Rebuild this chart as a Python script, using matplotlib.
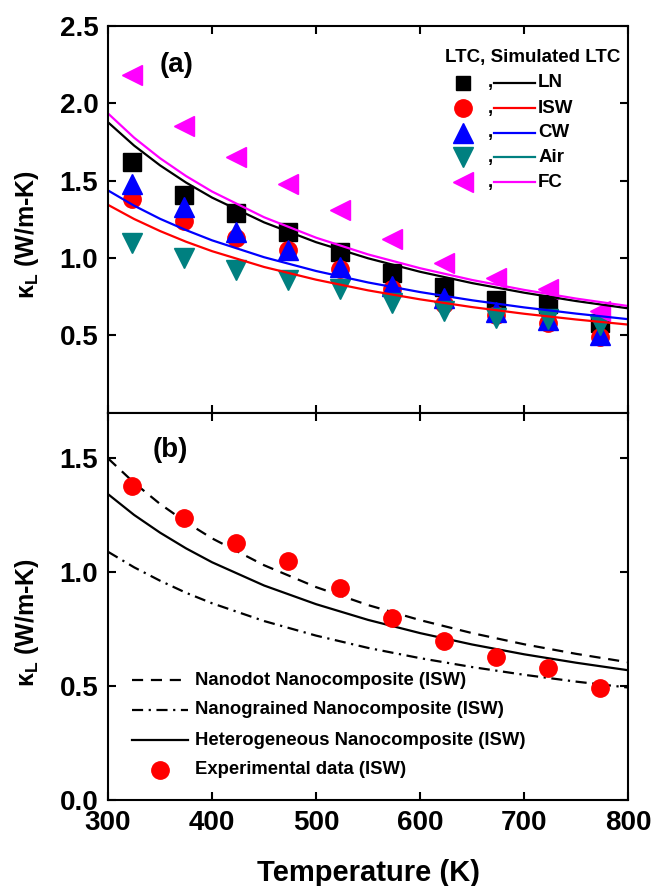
import matplotlib.pyplot as plt
import numpy as np

plt.rcParams['font.family'] = 'Liberation Sans'
plt.rcParams['font.weight'] = 'bold'
plt.rcParams['axes.labelweight'] = 'bold'
plt.rcParams['mathtext.fontset'] = 'custom'
plt.rcParams['mathtext.rm'] = 'Liberation Sans:bold'
plt.rcParams['mathtext.bf'] = 'Liberation Sans:bold'
plt.rcParams['mathtext.it'] = 'Liberation Sans:bold'

# Measured lattice thermal conductivity (W/m-K)
T_exp = [323, 373, 423, 473, 523, 573, 623, 673, 723, 773]
ln_exp = [1.62, 1.41, 1.29, 1.17, 1.04, 0.90, 0.81, 0.73, 0.70, 0.58]
isw_exp = [1.38, 1.24, 1.13, 1.05, 0.93, 0.80, 0.70, 0.63, 0.58, 0.49]
cw_exp = [1.48, 1.33, 1.17, 1.05, 0.94, 0.82, 0.74, 0.65, 0.60, 0.50]
air_exp = [1.10, 1.00, 0.92, 0.86, 0.80, 0.71, 0.66, 0.615, 0.605, 0.57]
fc_exp = [2.18, 1.85, 1.65, 1.48, 1.31, 1.12, 0.97, 0.87, 0.80, 0.66]

# Simulated LTC
T_sim = [300, 325, 350, 375, 400, 450, 500, 550, 600, 650, 700, 750, 800]
ln_sim = [1.876, 1.726, 1.598, 1.487, 1.390, 1.230, 1.102, 0.998, 0.911, 0.838, 0.776, 0.722, 0.675]
fc_sim = [1.933, 1.777, 1.644, 1.529, 1.429, 1.263, 1.131, 1.023, 0.934, 0.858, 0.794, 0.738, 0.690]
cw_sim = [1.436, 1.338, 1.253, 1.180, 1.114, 1.005, 0.916, 0.842, 0.780, 0.727, 0.681, 0.641, 0.605]
isw_sim = [1.343, 1.252, 1.174, 1.105, 1.044, 0.942, 0.860, 0.791, 0.733, 0.683, 0.640, 0.603, 0.570]

# Nanocomposite models (ISW)
nanodot = [1.500, 1.393, 1.300, 1.220, 1.149, 1.031, 0.935, 0.856, 0.790, 0.733, 0.684, 0.642, 0.605]
nanograined = [1.090, 1.022, 0.963, 0.910, 0.864, 0.786, 0.722, 0.668, 0.623, 0.584, 0.550, 0.520, 0.494]
heterogeneous = isw_sim

names = ['LN', 'ISW', 'CW', 'Air', 'FC']
colors = ['black', '#FF0000', '#0000FF', '#008080', '#FF00FF']
markers = ['s', 'o', '^', 'v', '<']
sizes = [12.5, 12.5, 14.5, 14.5, 14.5]
leg_sizes = [10, 12.5, 14, 14, 14]

fig, (ax1, ax2) = plt.subplots(2, 1, figsize=(6.55, 8.86), dpi=100, sharex=True)
fig.subplots_adjust(left=0.165, right=0.959, bottom=0.097, top=0.971, hspace=0)

# (a) measured points and simulated curves
for y, c, m, s in zip([ln_exp, isw_exp, cw_exp, air_exp, fc_exp], colors, markers, sizes):
    ax1.plot(T_exp, y, linestyle='none', marker=m, color=c, markersize=s)
for y, c in zip([ln_sim, isw_sim, cw_sim, fc_sim], ['black', '#FF0000', '#0000FF', '#FF00FF']):
    ax1.plot(T_sim, y, color=c, lw=1.6)

# hand-built legend: marker , line label
tr = ax1.transAxes
ax1.text(0.817, 0.917, 'LTC, Simulated LTC', transform=tr, ha='center', va='center', fontsize=13.5)
rows = [0.852, 0.787, 0.724, 0.660, 0.596]
for yy, n, c, m, s in zip(rows, names, colors, markers, leg_sizes):
    ax1.plot([0.683], [yy], transform=tr, marker=m, color=c, markersize=s, linestyle='none')
    ax1.text(0.735, yy, ',', transform=tr, ha='center', va='center', fontsize=13.5)
    ax1.plot([0.742, 0.821], [yy, yy], transform=tr, color=c, lw=1.6)
    ax1.text(0.827, yy, n, transform=tr, ha='left', va='center', fontsize=13.5)
ax1.text(0.10, 0.899, '(a)', transform=tr, ha='left', va='center', fontsize=20)

ax1.set_ylim(0, 2.5)
ax1.set_yticks([0.5, 1.0, 1.5, 2.0, 2.5])

# (b) nanocomposite models vs ISW data
ax2.plot(T_sim, nanodot, color='black', lw=1.6, linestyle=(0, (5, 3.5)))
ax2.plot(T_sim, nanograined, color='black', lw=1.6, linestyle=(0, (5, 2.5, 1, 2.5)))
ax2.plot(T_sim, heterogeneous, color='black', lw=1.6)
ax2.plot(T_exp, isw_exp, linestyle='none', marker='o', color='#FF0000', markersize=12.5)

tr2 = ax2.transAxes
leg_b = [('Nanodot Nanocomposite (ISW)', (0, (5, 3.5))),
         ('Nanograined Nanocomposite (ISW)', (0, (5, 2.5, 1, 2.5))),
         ('Heterogeneous Nanocomposite (ISW)', '-')]
for yy, (lab, ls) in zip([0.310, 0.233, 0.155], leg_b):
    ax2.plot([0.046, 0.154], [yy, yy], transform=tr2, color='black', lw=1.6, linestyle=ls)
    ax2.text(0.167, yy, lab, transform=tr2, ha='left', va='center', fontsize=13.3)
ax2.plot([0.100], [0.078], transform=tr2, marker='o', color='#FF0000', markersize=12.5, linestyle='none')
ax2.text(0.167, 0.078, 'Experimental data (ISW)', transform=tr2, ha='left', va='center', fontsize=13.3)
ax2.text(0.086, 0.904, '(b)', transform=tr2, ha='left', va='center', fontsize=20)

ax2.set_ylim(0, 1.7)
ax2.set_yticks([0.0, 0.5, 1.0, 1.5])
ax2.set_xlim(300, 800)
ax2.set_xticks([300, 400, 500, 600, 700, 800])
ax2.set_xlabel('Temperature (K)', fontsize=21, labelpad=17)

for ax in (ax1, ax2):
    ax.tick_params(direction='in', length=6, width=1.5, top=True, right=True, labelsize=20)
    ax.tick_params(axis='y', pad=7)
    ax.tick_params(axis='x', pad=7)
    ax.yaxis.set_major_formatter(plt.FormatStrFormatter('%.1f'))
    ax.set_ylabel('κ$_\\mathregular{L}$ (W/m-K)', fontsize=18)
    ax.yaxis.set_label_coords(-0.129, 0.46)
    for sp in ax.spines.values():
        sp.set_linewidth(1.5)
ax1.tick_params(labelbottom=False)

fig.savefig('out.png', dpi=100)
